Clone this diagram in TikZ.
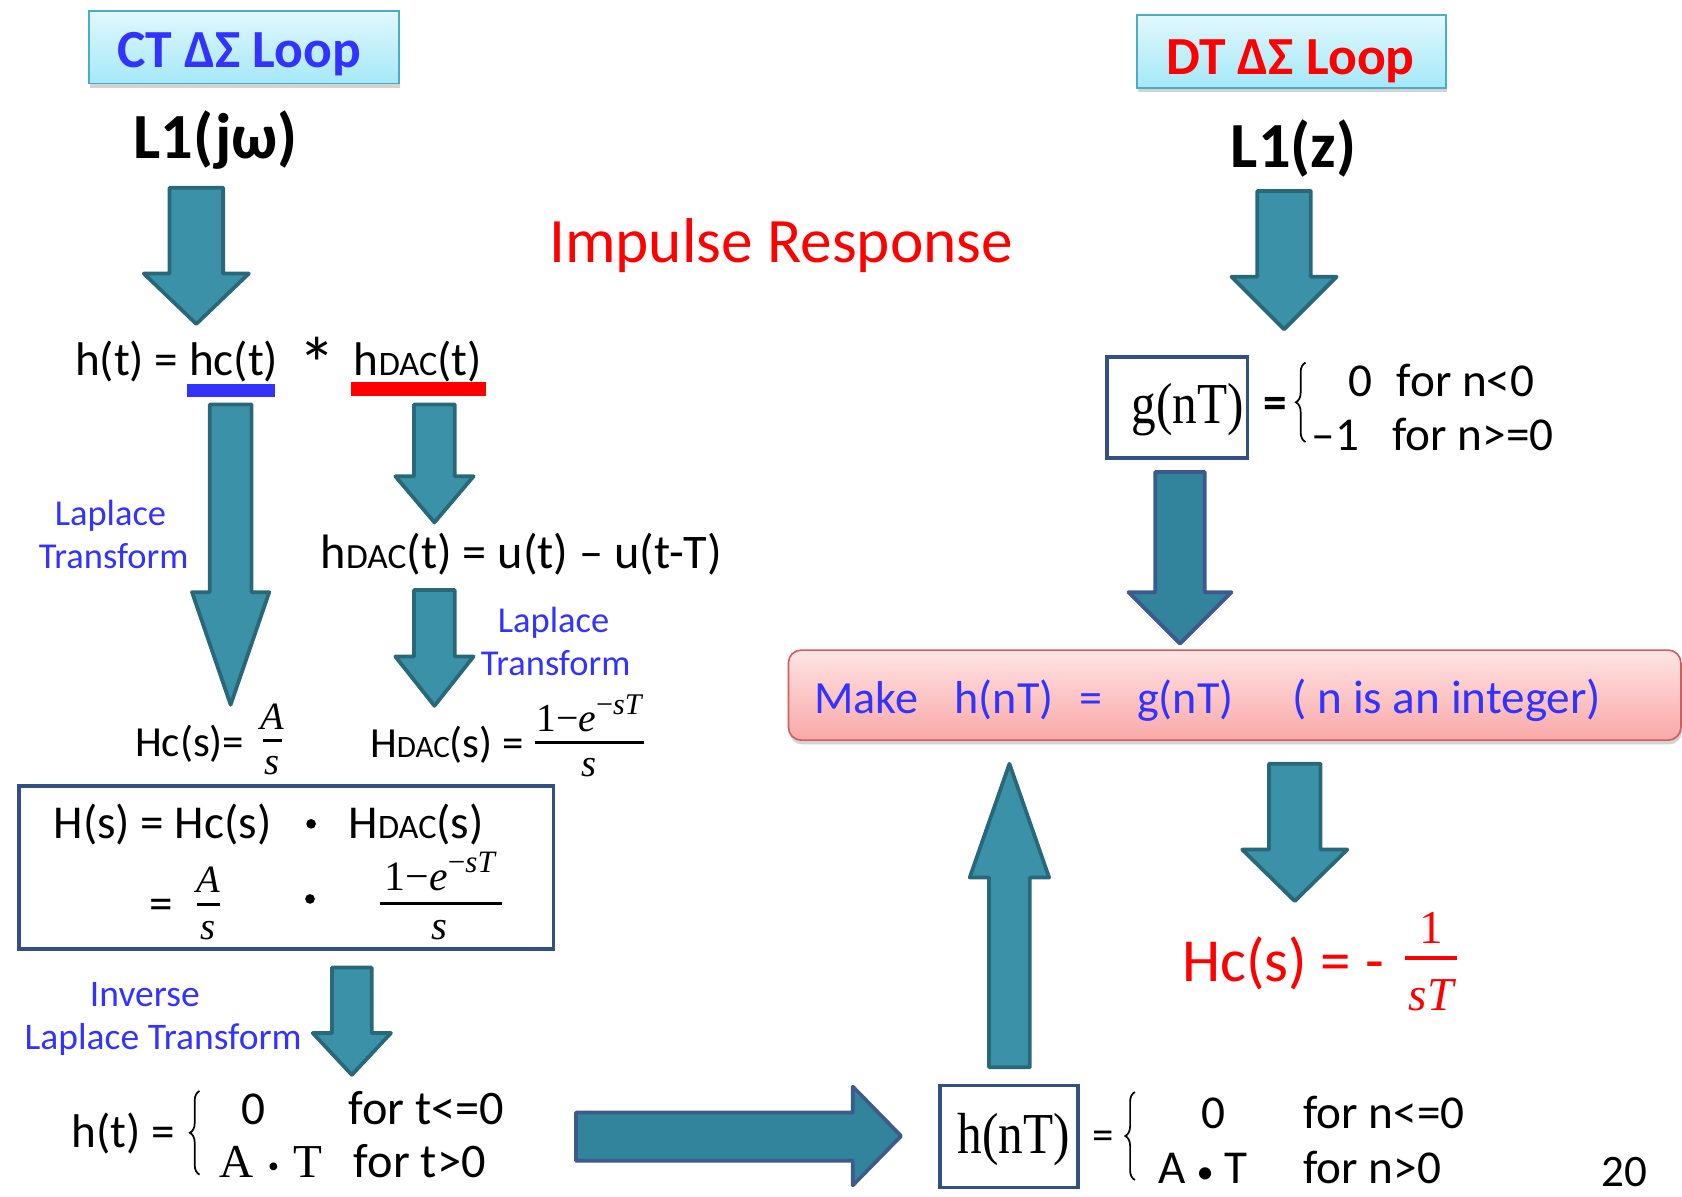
\documentclass[tikz,border=0pt]{standalone}
\usepackage{fontspec}
\usepackage{graphicx}
\setmainfont{Carlito}
\newfontfamily\serif{Liberation Serif}
\usetikzlibrary{shadows,decorations.pathreplacing}
\definecolor{tealF}{RGB}{58,145,168}
\definecolor{tealD}{RGB}{40,104,120}
\definecolor{tealFb}{RGB}{49,132,155}
\definecolor{blueD}{RGB}{60,90,140}
\definecolor{txtblue}{RGB}{51,51,255}
\definecolor{boxblue}{RGB}{50,80,130}
\definecolor{cyanT}{RGB}{225,248,253}
\definecolor{cyanB}{RGB}{165,232,248}
\definecolor{cyanE}{RGB}{75,172,198}
\definecolor{pinkT}{RGB}{255,228,228}
\definecolor{pinkB}{RGB}{250,168,168}
\definecolor{pinkE}{RGB}{205,95,95}
\newcommand\fs[1]{\fontsize{#1}{#1}\selectfont}
\newcommand\mi[1]{{\serif\itshape #1}}
% block arrow: style, cx, start, shaft half, head half, head base, tip
\newcommand\blkarrow[7]{\draw[#1] ({#2-#4},#3) -- ({#2+#4},#3) -- ({#2+#4},#6) -- ({#2+#5},#6) -- (#2,#7) -- ({#2-#5},#6) -- ({#2-#4},#6) -- cycle;}
\begin{document}
\begin{tikzpicture}[x=1pt,y=-1pt,
  txt/.style={inner sep=0pt, outer sep=0pt, anchor=base west},
  ctr/.style={inner sep=0pt, outer sep=0pt, anchor=base},
  blk/.style={fill=tealF, draw=tealD, line width=3.5pt, line join=round},
  blkb/.style={fill=tealFb, draw=blueD, line width=3.5pt, line join=round},
  titlebox/.style={draw=cyanE, line width=1.5pt, top color=cyanT, bottom color=cyanB,
     drop shadow={opacity=0.35, shadow xshift=1pt, shadow yshift=-4pt}},
  makebox/.style={draw=pinkE, line width=1.5pt, rounded corners=12pt, top color=pinkT, bottom color=pinkB,
     drop shadow={opacity=0.35, shadow xshift=1pt, shadow yshift=-4pt}},
  framebox/.style={draw=boxblue, line width=3.5pt, inner sep=0pt},
  bluet/.style={text=txtblue},
  bar/.style={line width=2.5pt},
  brc/.style={decorate, decoration={brace, amplitude=9pt}, line width=1.6pt}]
\useasboundingbox (0,0) rectangle (1568,1115);

% ---------- CT side ----------
\node[titlebox, minimum width=289pt, minimum height=68pt, inner sep=0pt] (ct) at (227.5,44) {};
\node[ctr, text=txtblue] (cttext) at (223,63) {\fs{50}\bfseries CT ΔΣ Loop};
\node[ctr] (l1jw) at (201,148) {\fs{60}\bfseries L1(jω)};
\blkarrow{blk}{183}{175}{25}{49}{255}{302}

\node[txt] (ht) at (70,350) {\fs{44}h(t) = hc(t)};
\node[ctr] (conv) at (296,364) {\fs{70}*};
\node[txt] (hdac) at (330,350) {\fs{44}h{\fs{32}DAC}(t)};
\fill[txtblue] (174,358) rectangle (256,370);
\fill[red] (327,356) rectangle (453,369);

\blkarrow{blk}{215}{377}{19.5}{36}{552}{657}
\blkarrow{blk}{405}{377}{19}{36.5}{444}{487}
\node[ctr, bluet] (lap1a) at (103,490) {\fs{34}Laplace};
\node[ctr, bluet] (lap1b) at (106,530) {\fs{34}Transform};
\node[txt] (hdacdef) at (299,530) {\fs{45}h{\fs{33}DAC}(t) = u(t) – u(t-T)};
\blkarrow{blk}{405}{550}{19}{36.5}{612}{658}
\node[ctr, bluet] (lap2a) at (516,590) {\fs{34}Laplace};
\node[ctr, bluet] (lap2b) at (518,630) {\fs{34}Transform};

\node[txt] (hcs) at (126,705) {\fs{40}Hc(s)=};
\node[ctr] (hcsn) at (254,680) {\fs{36}\mi{A}};
\draw[bar] (245,690) -- (263,690);
\node[ctr] (hcsd) at (254,722) {\fs{36}\mi{s}};
\node[txt] (hdacs) at (345,706) {\fs{40}H{\fs{29}DAC}(s) =};
\node[ctr] (hdacsn) at (549,682) {\fs{37}{\serif 1−}\mi{e}\raisebox{0.42em}{\fs{28}{\serif −}\mi{sT}}};
\draw[bar] (499,692) -- (600,692);
\node[ctr] (hdacsd) at (549,724) {\fs{36}\mi{s}};

\node[framebox, minimum width=498pt, minimum height=152pt] (hbox) at (267,809) {};
\node[txt] (hs1) at (50,782) {\fs{44}H(s) = Hc(s)};
\node[circle, fill, inner sep=0pt, minimum size=9pt] (dot1) at (290,768) {};
\node[txt] (hs2) at (325,782) {\fs{44}H{\fs{32}DAC}(s)};
\node[ctr] (eq2) at (150,857) {\fs{44}=};
\node[ctr] (fAn) at (194,832) {\fs{36}\mi{A}};
\draw[bar] (184,843) -- (205,843);
\node[ctr] (fAd) at (194,876) {\fs{36}\mi{s}};
\node[circle, fill, inner sep=0pt, minimum size=9pt] (dot2) at (289,838) {};
\node[ctr] (fBn) at (410,830) {\fs{39}{\serif 1−}\mi{e}\raisebox{0.42em}{\fs{29}{\serif −}\mi{sT}}};
\draw[bar] (354,842) -- (468,842);
\node[ctr] (fBd) at (410,876) {\fs{38}\mi{s}};

\node[ctr, bluet] (inv1) at (135,938) {\fs{35}Inverse};
\node[txt, bluet] (inv2) at (23,978) {\fs{35}Laplace Transform};
\blkarrow{blk}{328}{902}{18.5}{36.5}{963}{1002}

\node[txt] (htc) at (67,1070) {\fs{44}h(t) =};
\draw[brc] (186,1095) -- (186,1017);
\node[txt] (c1a) at (225,1048) {\fs{44}0};
\node[txt] (c1b) at (325,1048) {\fs{45}for t<=0};
\node[txt] (c2a) at (205,1098) {\fs{44}\serif A\hspace{13pt}{\fs{30}•}\hspace{13pt}T};
\node[txt] (c2b) at (330,1098) {\fs{45}for t>0};

% big right arrow
\draw[blkb] (537,1037) -- (795,1037) -- (795,1013) -- (840,1059) -- (795,1105) -- (795,1082) -- (537,1082) -- cycle;

% ---------- h(nT) ----------
\node[framebox, minimum width=129pt, minimum height=95pt] (hnbox) at (940.5,1059.5) {};
\node[txt] (hnt) at (893,1075) {\scalebox{0.85}[1]{\fs{54}\serif h(nT)}};
\node[ctr] (eq3) at (1028,1072) {\fs{40}=};
\draw[brc] (1058,1100) -- (1058,1018);
\node[txt] (d1a) at (1120,1052) {\fs{44}0};
\node[txt] (d1b) at (1215,1052) {\fs{44}for n<=0};
\node[txt] (d2a) at (1080,1103) {\fs{44}A\hspace{10pt}{\fs{32}•}\hspace{10pt}T};
\node[txt] (d2b) at (1215,1103) {\fs{44}for n>0};
\node[txt] (pg) at (1493,1106) {\fs{42}20};

\blkarrow{blk}{941}{995}{19}{37}{818}{712}

% ---------- centre title ----------
\node[txt, text=red] (imp) at (512,245) {\fs{59}Impulse Response};

% ---------- DT side ----------
\node[titlebox, minimum width=288pt, minimum height=68pt, inner sep=0pt] (dt) at (1204,48) {};
\node[ctr, text=red] (dttext) at (1203,69) {\fs{50}\bfseries DT ΔΣ Loop};
\node[ctr] (l1z) at (1206,156) {\fs{60}\bfseries L1(z)};
\blkarrow{blk}{1197}{178}{25}{49}{258}{307}

\node[framebox, minimum width=131pt, minimum height=94pt] (gbox) at (1097.5,380) {};
\node[txt] (gnt) at (1055,395) {\scalebox{0.85}[1]{\fs{54}\serif g(nT)}};
\node[ctr] (eq4) at (1189,390) {\fs{44}\bfseries =};
\draw[brc] (1217,412) -- (1217,338);
\node[txt] (e1a) at (1257,370) {\fs{44}0};
\node[txt] (e1b) at (1302,370) {\fs{44}for n<0};
\node[txt] (e2a) at (1223,420) {\fs{44}–1};
\node[txt] (e2b) at (1298,420) {\fs{44}for n>=0};

\blkarrow{blkb}{1100}{440}{23}{48}{552}{600}

\node[makebox, minimum width=832pt, minimum height=84pt, inner sep=0pt] (make) at (1151,648) {};
\node[txt, bluet] (mk1) at (759,665) {\fs{43}Make};
\node[txt, bluet] (mk2) at (890,665) {\fs{43}h(nT)};
\node[txt, bluet] (mk3) at (1006,665) {\fs{43}=};
\node[txt, bluet] (mk4) at (1060,665) {\fs{43}g(nT)};
\node[txt, bluet] (mk5) at (1205,665) {\fs{44}( n is an integer)};

\blkarrow{blk}{1207}{712}{24}{49}{792}{840}

\node[txt, text=red] (hcr) at (1102,915) {\fs{57}Hc(s) = -};
\node[ctr, text=red] (hcrn) at (1334,880) {\fs{44}\serif 1};
\draw[bar, red, line width=4pt] (1310,893) -- (1358,893);
\node[ctr, text=red] (hcrd) at (1334,942) {\fs{44}\mi{sT}};
\end{tikzpicture}
\end{document}
